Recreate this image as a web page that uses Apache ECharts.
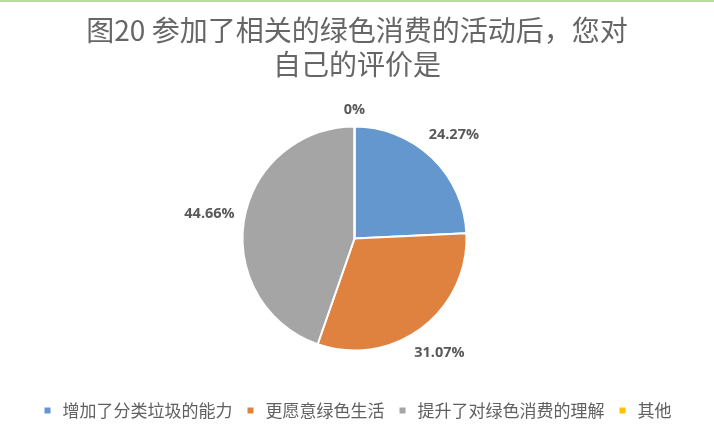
<!DOCTYPE html>
<html>
<head>
<meta charset="utf-8">
<script src="https://cdn.jsdelivr.net/npm/echarts@6/dist/echarts.min.js"></script>
<style>
html,body{margin:0;padding:0;background:#fff;}
#chart{width:714px;height:432px;}
</style>
</head>
<body>
<div id="chart"></div>
<script>
var titleText = '图20 参加了相关的绿色消费的活动后，您对\n自己的评价是';
var categories = ['增加了分类垃圾的能力', '更愿意绿色生活', '提升了对绿色消费的理解', '其他'];
var values = [24.27, 31.07, 44.66, 0];
var colors = ['#6597CF', '#E0823F', '#A5A5A5', '#FFC000'];

var CX = 354.5, CY = 238.5, R = 112, GAP = 9;

var total = values.reduce(function (a, b) { return a + b; }, 0);
var cum = 0;
var midAngles = values.map(function (v) {
  var m = (cum + v / 2) / total * 2 * Math.PI;
  cum += v;
  return m;
});

var chart = echarts.init(document.getElementById('chart'));
var pieData = categories.map(function (name, i) {
  return { name: name, value: values[i], itemStyle: { color: colors[i] } };
});

chart.setOption({
  animation: false,
  backgroundColor: '#fff',
  graphic: [{
    type: 'rect',
    shape: { x: 0, y: 0, width: 714, height: 2 },
    style: { fill: '#B7DA9E' },
    silent: true
  }],
  title: {
    text: titleText,
    left: 'center',
    top: 8,
    textStyle: {
      fontFamily: 'Noto Sans CJK SC',
      fontSize: 28,
      fontWeight: 'normal',
      color: '#666666',
      lineHeight: 34
    }
  },
  legend: {
    data: categories,
    left: 'center',
    top: 397,
    icon: 'rect',
    itemWidth: 8,
    itemHeight: 8,
    itemGap: 13,
    selectedMode: false,
    textStyle: {
      fontFamily: 'Noto Sans CJK SC',
      fontSize: 17,
      color: '#606060',
      padding: [0, 0, 0, 6]
    }
  },
  series: [{
    type: 'pie',
    center: [CX, CY],
    radius: [0, R],
    startAngle: 90,
    clockwise: true,
    stillShowZeroSum: true,
    itemStyle: { borderColor: '#fff', borderWidth: 2 },
    label: {
      show: true,
      position: 'outside',
      formatter: '{c}%',
      fontFamily: 'Open Sans',
      fontWeight: 'bold',
      fontSize: 14.5,
      color: '#595959'
    },
    labelLine: { show: false, length: 12, length2: 0 },
    labelLayout: function (p) {
      var a = midAngles[p.dataIndex];
      var hw = p.labelRect.width / 2, hh = p.labelRect.height / 2;
      var s = Math.sin(a), c = Math.cos(a);
      var d = R + GAP + Math.abs(hw * s) + Math.abs(hh * c);
      return { x: CX + d * s, y: CY - d * c, align: 'center', verticalAlign: 'middle' };
    },
    emphasis: { disabled: true },
    data: pieData
  }]
});
</script>
</body>
</html>
